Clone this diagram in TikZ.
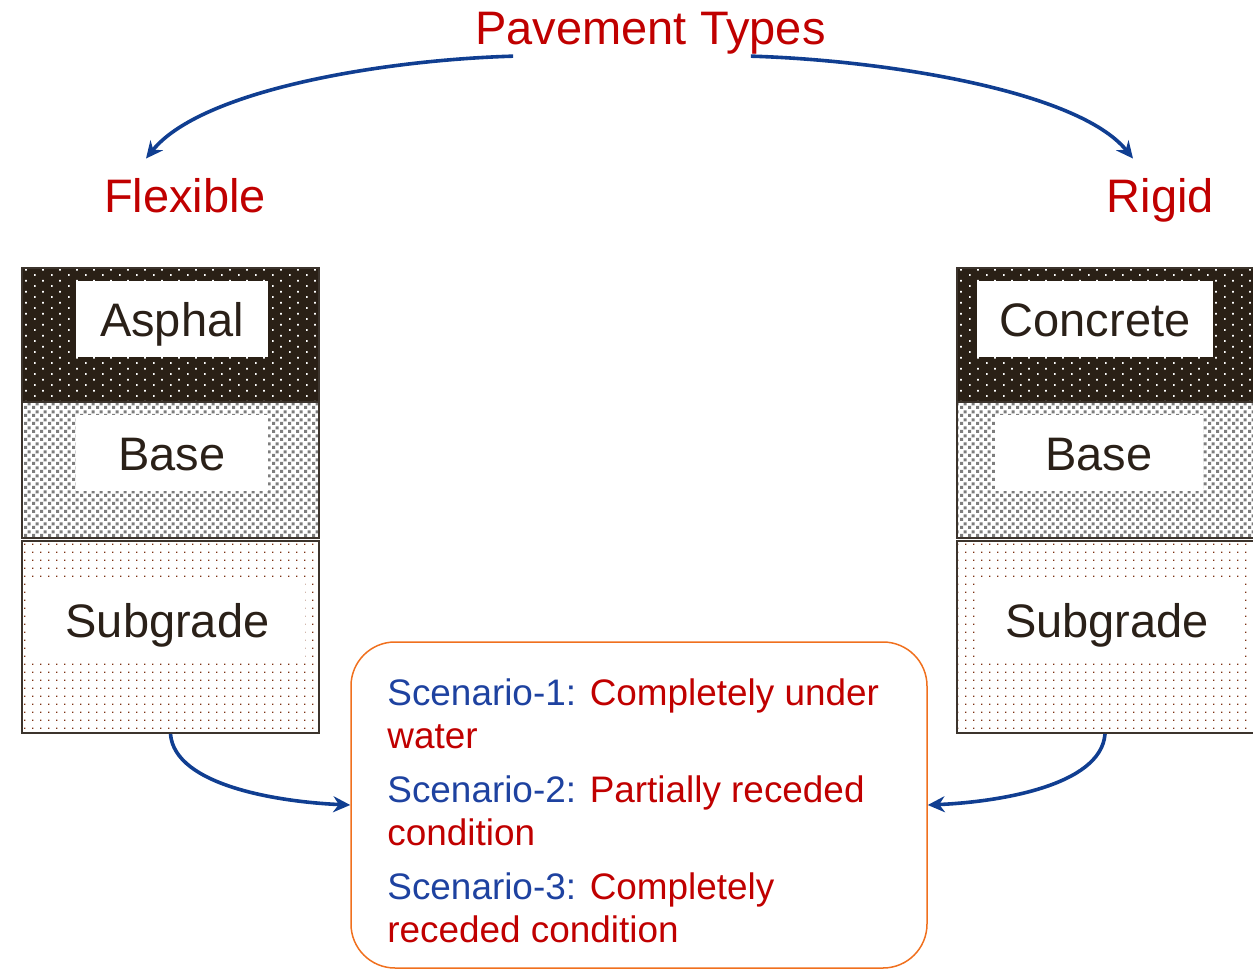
\documentclass[tikz,border=0pt]{standalone}
\usepackage{fontspec}
\setmainfont{Liberation Sans}
\usetikzlibrary{arrows.meta}
\usetikzlibrary{patterns,patterns.meta}
\usepackage{xcolor}

\definecolor{pavred}{RGB}{192,0,0}
\definecolor{pavblue}{RGB}{16,62,145}
\definecolor{scblue}{RGB}{30,66,160}
\definecolor{asphdark}{RGB}{42,32,22}
\definecolor{meshgray}{RGB}{125,125,125}
\definecolor{soilbrown}{RGB}{125,50,20}
\definecolor{boxorange}{RGB}{240,112,30}
\definecolor{labeltext}{RGB}{42,32,24}
\definecolor{layerline}{RGB}{60,52,45}

\pgfdeclarepatternformonly{asphdots}{\pgfpointorigin}{\pgfqpoint{8.5pt}{5.4pt}}{\pgfqpoint{8.5pt}{5.4pt}}{
 \pgfpathrectangle{\pgfpointorigin}{\pgfqpoint{0.9pt}{0.9pt}}
 \pgfpathrectangle{\pgfqpoint{4.25pt}{2.7pt}}{\pgfqpoint{0.9pt}{0.9pt}}
 \pgfusepath{fill}
}
\pgfdeclarepatternformonly{basemesh}{\pgfpointorigin}{\pgfqpoint{4pt}{4pt}}{\pgfqpoint{4pt}{4pt}}{
 \pgfpathrectangle{\pgfpointorigin}{\pgfqpoint{1.7pt}{1.7pt}}
 \pgfpathrectangle{\pgfqpoint{2pt}{2pt}}{\pgfqpoint{1.7pt}{1.7pt}}
 \pgfusepath{fill}
}
\pgfdeclarepatternformonly{soildots}{\pgfpointorigin}{\pgfqpoint{4.2pt}{4pt}}{\pgfqpoint{4.2pt}{4pt}}{
 \pgfpathrectangle{\pgfpointorigin}{\pgfqpoint{0.8pt}{0.8pt}}
 \pgfusepath{fill}
}

\begin{document}
\begin{tikzpicture}[x=0.5pt, y=0.5pt,
 bigtxt/.style={font=\fontsize{23.5}{28}\selectfont},
 typename/.style={bigtxt, text=pavred, inner sep=0, anchor=base},
 layer/.style={draw=layerline, line width=0.75pt, inner sep=0, minimum width=148.5pt},
 asphlayer/.style={layer, preaction={fill=asphdark}, pattern=asphdots, pattern color=white, minimum height=67pt},
 baselayer/.style={layer, pattern=basemesh, pattern color=meshgray, minimum height=68pt},
 soillayer/.style={layer, line width=1pt, pattern=soildots, pattern color=soilbrown, minimum height=96pt},
 layername/.style={bigtxt, fill=white, text=labeltext, inner sep=0, text height=17pt, text depth=0pt, minimum height=38pt},
 flow/.style={draw=pavblue, line width=1.8pt, -{Stealth[length=8.5pt, width=8pt]}}
]
\useasboundingbox (0,0) rectangle (1253,-969);

\node[typename] (ptypes) at (650.5,-44) {Pavement Types};
\node[typename] (flex) at (185,-212) {Flexible};
\node[typename] (rigid) at (1160.5,-212) {Rigid};

\node[asphlayer] (fasph) at (170.5,-335) {};
\node[baselayer] (fbase) at (170.5,-470) {};
\node[soillayer] (fsub) at (170.5,-637) {};
\node[layername, minimum width=96pt] (fasphname) at (172,-319) {Asphal};
\node[layername, minimum width=96pt] (fbasename) at (172,-453) {Base};
\node[layername, minimum width=137.5pt, minimum height=37pt] (fsubname) at (167.5,-620) {Subgrade};

\node[asphlayer, minimum width=152pt] (rconc) at (1109,-335) {};
\node[baselayer, minimum width=152pt] (rbase) at (1109,-470) {};
\node[soillayer, minimum width=152pt] (rsub) at (1109,-637) {};
\node[layername, minimum width=118pt] (rconcname) at (1095,-319) {Concrete};
\node[layername, minimum width=104pt] (rbasename) at (1099,-453) {Base};
\node[layername, minimum width=132.5pt, minimum height=37pt] (rsubname) at (1107,-620) {Subgrade};

\node[draw=boxorange, line width=0.75pt, rounded corners=22pt, minimum width=288pt, minimum height=163pt] (scen) at (639,-805) {};
\node[anchor=north west, inner sep=0, align=left, text=pavred, font=\fontsize{18.45}{21.5}\selectfont] (scentext) at (387,-678)
 {\textcolor{scblue}{Scenario-1:} Completely under\\ water\\[5.5pt]
  \textcolor{scblue}{Scenario-2:} Partially receded\\ condition\\[5.5pt]
  \textcolor{scblue}{Scenario-3:} Completely\\ receded condition};

\draw[flow] ([xshift=19pt, yshift=-1pt]ptypes.south west) .. controls +(-133,-4) and +(55,68) .. ([xshift=-19.5pt, yshift=9.5pt]flex.north);
\draw[flow] ([xshift=-37.5pt, yshift=-1pt]ptypes.south east) .. controls +(133,-4) and +(-55,68) .. ([xshift=-13.75pt, yshift=9.5pt]rigid.north);
\draw[flow] (fsub.south) .. controls +(4,-52) and +(-70,3) .. (scen.west);
\draw[flow] ([xshift=-2pt]rsub.south) .. controls +(-4,-52) and +(70,3) .. (scen.east);
\end{tikzpicture}
\end{document}
